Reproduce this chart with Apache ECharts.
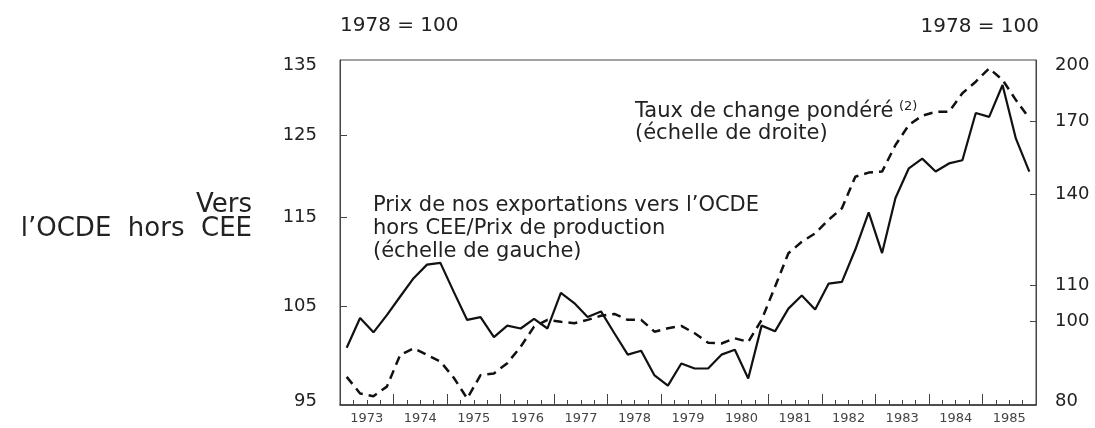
<!DOCTYPE html>
<html><head><meta charset="utf-8">
<script src="https://cdn.jsdelivr.net/npm/echarts@6/dist/echarts.min.js"></script>
<style>html,body{margin:0;padding:0;background:#fff}#c{width:1095px;height:428px}</style>
</head><body><div id="c"></div>
<script>
const years = ['1973','1974','1975','1976','1977','1978','1979','1980','1981','1982','1983','1984','1985'];
const quarterNames = ['T1','T2','T3','T4'];
const exportPrice = [100.7,103.8,102.3,104.1,106.1,108.1,109.6,109.8,106.6,103.6,103.9,101.8,103.0,102.7,103.7,102.7,106.5,105.4,103.9,104.5,102.2,100.0,100.4,97.9,96.9,99.1,98.6,98.6,100.0,100.5,97.6,103.0,102.4,104.8,106.2,104.7,107.5,107.7,111.3,115.6,110.9,117.3,120.9,122.1,120.5,121.5,121.9,127.9,127.4,131.6,124.6,120.5];
const exchangeRate = [86.2,82.5,81.9,84.0,91.4,93.0,91.4,89.8,86.0,81.4,86.6,87.0,89.4,93.4,98.5,100.3,99.8,99.4,100.3,101.4,101.9,100.3,100.3,97.2,98.1,98.7,96.8,94.4,94.2,95.5,94.6,100.3,109.5,119.7,123.4,126.2,130.8,134.9,146.7,148.3,148.7,159.6,168.3,172.5,174.3,174.3,183.1,188.8,195.6,189.7,179.8,171.3];
const leftTicks = [95,105,115,125,135];
const rightTicks = [80,100,110,140,170,200];
const quarters = years.flatMap(y => quarterNames.map(q => y + ' ' + q));

const FONT = 'DejaVu Sans';
const INK = '#222';
const richNum = {
  t: {fontSize: 18, fontFamily: FONT, color: INK, padding: [10, 0, 0, 0]},
  b: {fontSize: 18, fontFamily: FONT, color: INK, padding: [0, 0, 7, 0]},
  n: {fontSize: 18, fontFamily: FONT, color: INK}
};
function numLabel(ticks) {
  const lo = Math.min(...ticks), hi = Math.max(...ticks);
  return function (v) {
    const r = Math.round(v);
    return r === hi ? '{t|' + r + '}' : r === lo ? '{b|' + r + '}' : '{n|' + r + '}';
  };
}
const chart = echarts.init(document.getElementById('c'));
chart.setOption({
  animation: false,
  backgroundColor: '#fff',
  grid: {left: 340, right: 59, top: 60, bottom: 23, show: true, borderColor: '#444', borderWidth: 1, outerBoundsMode: 'none'},
  xAxis: [
    {type: 'category', data: quarters, boundaryGap: true, position: 'bottom',
     axisLine: {show: true, lineStyle: {color: '#333', width: 1.5}},
     axisTick: {show: true, inside: true, length: 5, interval: 0, lineStyle: {color: '#444'}},
     axisLabel: {show: false}, splitLine: {show: false}},
    {type: 'category', data: years, boundaryGap: true, position: 'bottom',
     axisLine: {show: false},
     axisTick: {show: true, inside: true, length: 11, interval: 0, lineStyle: {color: '#444'}},
     axisLabel: {show: true, interval: 0, fontSize: 13, fontFamily: FONT, color: '#444', margin: 7},
     splitLine: {show: false}}
  ],
  yAxis: [
    {type: 'log', min: 95, max: 135, position: 'left',
     axisLine: {show: true, lineStyle: {color: '#444'}},
     axisTick: {show: true, inside: true, length: 7, customValues: [105,115,125], lineStyle: {color: '#444'}},
     axisLabel: {customValues: leftTicks, fontSize: 18, fontFamily: FONT, color: INK, margin: 23,
                 formatter: numLabel(leftTicks), rich: richNum},
     splitLine: {show: false}},
    {type: 'log', min: 80, max: 200, position: 'right',
     axisLine: {show: true, lineStyle: {color: '#444'}},
     axisTick: {show: true, inside: true, length: 6, customValues: [100,110,140,170], lineStyle: {color: '#444'}},
     axisLabel: {customValues: rightTicks, fontSize: 18, fontFamily: FONT, color: INK, margin: 19,
                 formatter: numLabel(rightTicks), rich: richNum},
     splitLine: {show: false}}
  ],
  series: [
    {type: 'line', name: 'Prix', xAxisIndex: 0, yAxisIndex: 0, data: exportPrice, symbol: 'none',
     lineStyle: {color: '#111', width: 2.2}},
    {type: 'line', name: 'Taux', xAxisIndex: 0, yAxisIndex: 1, data: exchangeRate, symbol: 'none',
     lineStyle: {color: '#111', width: 2.5, type: [9, 6]}}
  ],
  graphic: [
    {type: 'text', x: 340, y: 26, style: {text: '1978 = 100', fontSize: 20, fontFamily: FONT, fill: INK, verticalAlign: 'middle'}},
    {type: 'text', x: 1039, y: 27, style: {text: '1978 = 100', fontSize: 20, fontFamily: FONT, fill: INK, align: 'right', verticalAlign: 'middle'}},
    {type: 'text', x: 252, y: 205, style: {text: 'Vers', fontSize: 26, fontFamily: FONT, fill: INK, align: 'right', verticalAlign: 'middle'}},
    {type: 'text', x: 252, y: 229, style: {text: 'l\u2019OCDE  hors  CEE', fontSize: 26, fontFamily: FONT, fill: INK, align: 'right', verticalAlign: 'middle'}},
    {type: 'text', x: 373, y: 206, style: {text: 'Prix de nos exportations vers l\u2019OCDE', fontSize: 21, fontFamily: FONT, fill: INK, verticalAlign: 'middle'}},
    {type: 'text', x: 373, y: 229, style: {text: 'hors CEE/Prix de production', fontSize: 21, fontFamily: FONT, fill: INK, verticalAlign: 'middle'}},
    {type: 'text', x: 373, y: 252, style: {text: '(échelle de gauche)', fontSize: 21, fontFamily: FONT, fill: INK, verticalAlign: 'middle'}},
    {type: 'text', x: 635, y: 112, style: {text: 'Taux de change pondéré', fontSize: 21, fontFamily: FONT, fill: INK, verticalAlign: 'middle'}},
    {type: 'text', x: 899, y: 107, style: {text: '(2)', fontSize: 13, fontFamily: FONT, fill: INK, verticalAlign: 'middle'}},
    {type: 'text', x: 635, y: 134, style: {text: '(échelle de droite)', fontSize: 21, fontFamily: FONT, fill: INK, verticalAlign: 'middle'}}
  ]
});
</script>
</body></html>
